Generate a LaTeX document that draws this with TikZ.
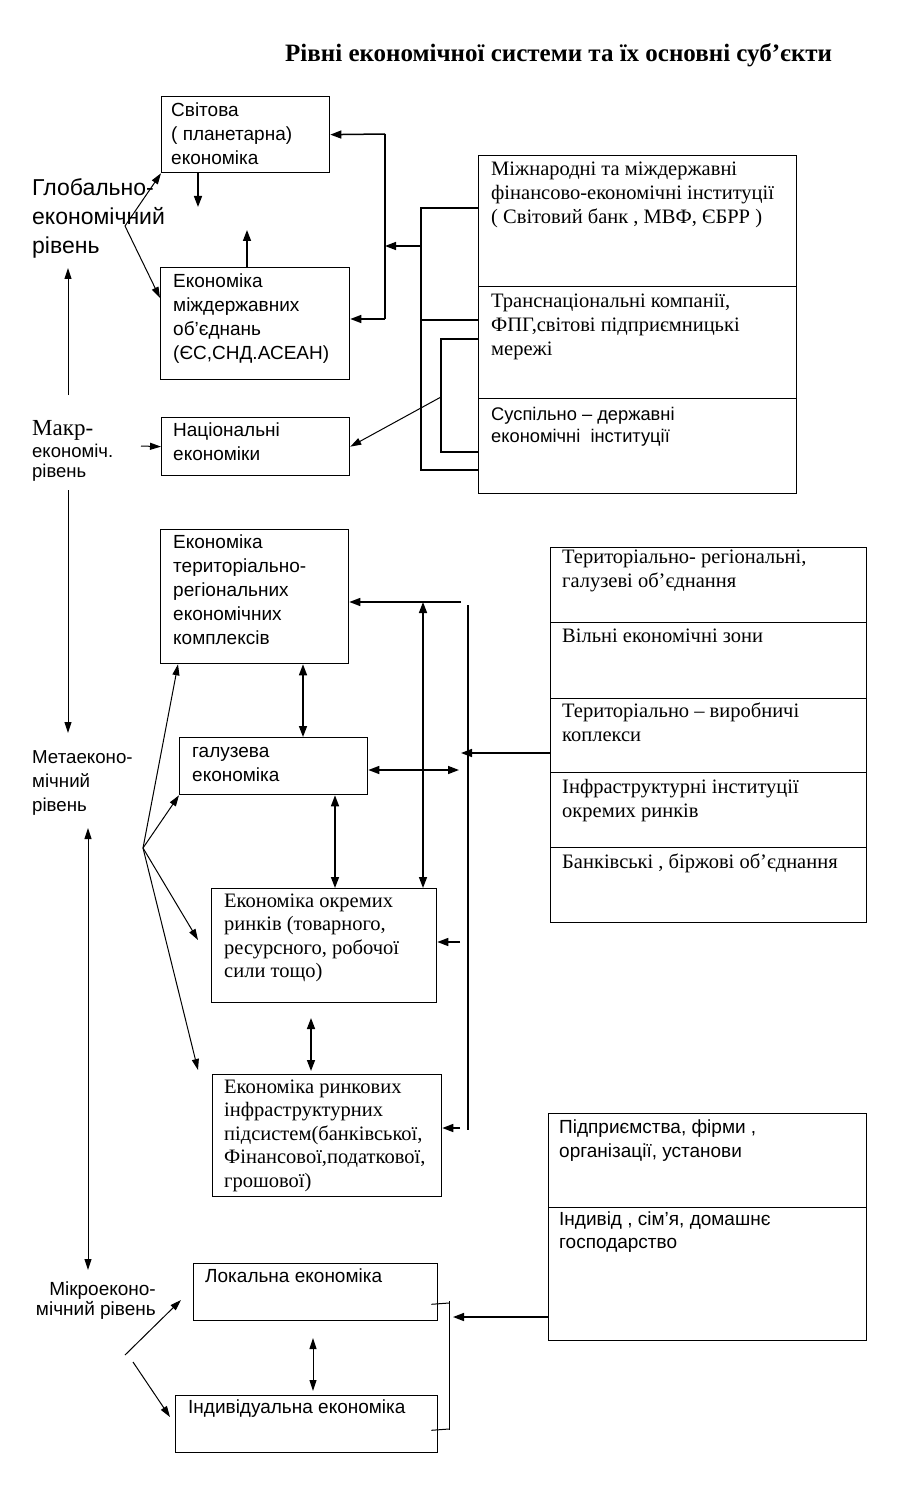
\documentclass[tikz,border=0pt]{standalone}
\usepackage{fontspec}
\setmainfont{Liberation Serif}
\newfontfamily\sansf{Liberation Sans}
\usetikzlibrary{arrows.meta,calc}
\newcommand\fl{\rule{0pt}{17pt}}
\begin{document}
\begin{tikzpicture}[x=1pt,y=-1pt,
  box/.style={draw,line width=1.3pt,inner sep=0,anchor=north west},
  txt/.style={inner sep=0,anchor=north west,align=left},
  sanstxt/.style={txt,font=\sansf\fontsize{19}{24}\selectfont},
  seriftxt/.style={txt,font=\fontsize{20.5}{24}\selectfont},
  one/.style={inner sep=0,anchor=base west},
  ln/.style={line width=1.5pt},
  arr/.style={ln,-{Triangle[length=11pt,width=8pt]}},
  darr/.style={ln,{Triangle[length=11pt,width=8pt]}-{Triangle[length=11pt,width=8pt]}},
  thinarr/.style={line width=1pt,-{Triangle[length=11pt,width=7pt]}},
  ]
\path[use as bounding box,fill=white] (0,0) rectangle (900,1503);

% title
\node[one,font=\bfseries\fontsize{25}{28}\selectfont] (title) at (285,62) {Рівні економічної системи та їх основні суб’єкти};

% global level boxes
\node[box,minimum width=168pt,minimum height=76pt] (svit) at (161,96) {};
\node[sanstxt] (svitT) at (171,99) {\fl Світова\\( планетарна)\\економіка};
\node[box,minimum width=189pt,minimum height=112pt] (mizh) at (160,267) {};
\node[sanstxt] (mizhT) at (173,270) {\fl Економіка\\міждержавних\\об’єднань\\(ЄС,СНД.АСЕАН)};
\node[box,minimum width=188pt,minimum height=58pt] (nats) at (161,417) {};
\node[sanstxt] (natsT) at (173,419) {\fl Національні\\економіки};

% left labels
\node[txt,font=\sansf\fontsize{23}{29}\selectfont] (glob) at (32,178) {\fl Глобально-\\економічний\\рівень};
\node[one,font=\fontsize{23}{26}\selectfont] (makr1) at (32,435) {Макр-};
\node[one,font=\sansf\fontsize{18.5}{20}\selectfont] (makr2) at (32,457) {економіч.};
\node[one,font=\sansf\fontsize{18.5}{20}\selectfont] (makr3) at (32,477) {рівень};
\node[txt,font=\sansf\fontsize{18.7}{24}\selectfont] (meta) at (32,746) {\fl Метаеконо-\\мічний\\рівень};
\node[inner sep=0,anchor=north east,align=right,font=\sansf\fontsize{19}{20}\selectfont] (mikro) at (156,1278) {\fl Мікроеконо-\\мічний рівень};

% right institutions box
\node[box,minimum width=318pt,minimum height=131pt] (intA) at (478,155) {};
\node[box,minimum width=318pt,minimum height=112pt] (intB) at (478,286) {};
\node[box,minimum width=318pt,minimum height=95pt] (intC) at (478,398) {};
\node[seriftxt] (intAT) at (491,158) {\fl Міжнародні та міждержавні\\фінансово-економічні інституції\\( Світовий банк , МВФ, ЄБРР )};
\node[seriftxt] (intBT) at (491,290) {\fl Транснаціональні компанії,\\ФПГ,світові підприємницькі\\мережі};
\node[txt,font=\sansf\fontsize{18.3}{22}\selectfont] (intCT) at (491,403) {\fl Суспільно – державні\\економічні\ \ інституції};

% meta level boxes
\node[box,minimum width=188pt,minimum height=134pt] (terr) at (160,529) {};
\node[sanstxt] (terrT) at (173,531) {\fl Економіка\\територіально-\\регіональних\\економічних\\комплексів};
\node[box,minimum width=188pt,minimum height=57pt] (galuz) at (179,737) {};
\node[sanstxt] (galuzT) at (192,740) {\fl галузева\\економіка};
\node[box,minimum width=225pt,minimum height=114pt] (okrem) at (211,888) {};
\node[txt,font=\fontsize{20.5}{23.5}\selectfont] (okremT) at (224,890) {\fl Економіка окремих\\ринків (товарного,\\ресурсного, робочої\\сили тощо)};
\node[box,minimum width=229pt,minimum height=122pt] (rynk) at (212,1074) {};
\node[txt,font=\fontsize{20.5}{23.5}\selectfont] (rynkT) at (224,1076) {\fl Економіка ринкових\\інфраструктурних\\підсистем(банківської,\\Фінансової,податкової,\\грошової)};

% right box 2
\node[box,minimum width=316pt,minimum height=75pt] (rbA) at (550,547) {};
\node[box,minimum width=316pt,minimum height=76pt] (rbB) at (550,622) {};
\node[box,minimum width=316pt,minimum height=74pt] (rbC) at (550,698) {};
\node[box,minimum width=316pt,minimum height=75pt] (rbD) at (550,772) {};
\node[box,minimum width=316pt,minimum height=75pt] (rbE) at (550,847) {};
\node[seriftxt] (rbAT) at (562,546) {\fl Територіально- регіональні,\\галузеві об’єднання};
\node[one,font=\fontsize{20.5}{24}\selectfont] (rbBT) at (562,642) {Вільні економічні зони};
\node[seriftxt] (rbCT) at (562,700) {\fl Територіально – виробничі\\коплекси};
\node[seriftxt] (rbDT) at (562,776) {\fl Інфраструктурні інституції\\окремих ринків};
\node[one,font=\fontsize{20.5}{24}\selectfont] (rbET) at (562,868) {Банківські , біржові об’єднання};

% micro level
\node[box,minimum width=244pt,minimum height=57pt] (lok) at (193,1263) {};
\node[one,font=\sansf\fontsize{19}{24}\selectfont] (lokT) at (205,1282) {Локальна економіка};
\node[box,minimum width=262pt,minimum height=57pt] (ind) at (175,1395) {};
\node[one,font=\sansf\fontsize{19}{24}\selectfont] (indT) at (188,1413) {Індивідуальна економіка};
\node[box,minimum width=318pt,minimum height=94pt] (ent) at (548,1113) {};
\node[box,minimum width=318pt,minimum height=133pt] (fam) at (548,1207) {};
\node[txt,font=\sansf\fontsize{19}{24}\selectfont] (entT) at (559,1116) {\fl Підприємства, фірми ,\\організації, установи};
\node[txt,font=\sansf\fontsize{19}{23}\selectfont] (famT) at (559,1208) {\fl Індивід , сім’я, домашнє\\господарство};

% ---- connectors: global level
\coordinate (gfan) at (125,226);
\draw[thinarr] (gfan) -- (svit.south west);
\draw[thinarr] (gfan) -- ($(mizh.north west)+(0,31)$);
\coordinate (svdown) at (198,207);
\draw[arr] (svit.south west -| svdown) -- (svdown);
\coordinate (mzup) at (247,230);
\draw[arr] (mizh.north west -| mzup) -- (mzup);
\coordinate (b1t) at (385,134);
\coordinate (b1b) at (385,319);
\coordinate (b2m) at (421,246);
\draw[ln] (b1t) -- (b1b);
\draw[arr] (b1t) -- (svit.east);
\draw[arr] (b1b) -- (b1b -| mizh.east);
\draw[arr] (b2m) -- (b2m -| b1t);
% big bracket
\coordinate (bb1) at (421,208);
\coordinate (bb2) at (421,470);
\coordinate (bbm) at (421,320);
\draw[ln] (bb1 -| intA.west) -- (bb1) -- (bb2) -- (bb2 -| intC.west);
\draw[ln] (bbm) -- (bbm -| intB.west);
% inner bracket
\coordinate (ib1) at (441,339);
\coordinate (ib2) at (441,452);
\coordinate (ibm) at (441,397);
\draw[ln] (ib1 -| intB.west) -- (ib1) -- (ib2) -- (ib2 -| intC.west);
\draw[thinarr] (ibm) -- (nats.east);
% left arrows
\coordinate (mk) at (141,446);
\draw[thinarr] (mk) -- (nats.west);
\coordinate (l1a) at (68,395);
\coordinate (l1b) at (68,268);
\draw[thinarr] (l1a) -- (l1b);
\coordinate (l2a) at (68,490);
\coordinate (l2b) at (68,733);
\draw[thinarr] (l2a) -- (l2b);
\coordinate (l3a) at (88,828);
\coordinate (l3b) at (88,1270);
\draw[line width=1pt,{Triangle[length=11pt,width=7pt]}-{Triangle[length=11pt,width=7pt]}] (l3a) -- (l3b);

% ---- meta level
\draw[darr] ($(terr.south west)+(143,0)$) -- ($(galuz.north west)+(124,0)$);
\draw[darr] ($(galuz.south west)+(156,0)$) -- ($(okrem.north west)+(124,0)$);
\coordinate (m4r) at (461,602);
\coordinate (m3t) at (423,602);
\draw[arr] (m4r) -- (m4r -| terr.east);
\draw[darr] (m3t) -- ($(okrem.north west)+(212,0)$);
\coordinate (vt) at (468,605);
\coordinate (vb) at (468,1130);
\draw[ln] (vt) -- (vb);
\coordinate (m7) at (461,753);
\draw[arr] (m7 -| rbC.west) -- (m7);
\coordinate (m8) at (459,770);
\draw[darr] (m8 -| galuz.east) -- (m8);
\coordinate (s1) at (460,942);
\draw[arr] (s1) -- (s1 -| okrem.east);
\coordinate (s2) at (460,1128);
\draw[arr] (s2) -- (s2 -| rynk.east);
% fan
\coordinate (mfan) at (143,848);
\coordinate (f3) at (198,940);
\coordinate (f4) at (198,1070);
\draw[thinarr] (mfan) -- ($(terr.south west)+(18,0)$);
\draw[thinarr] (mfan) -- (galuz.south west);
\draw[thinarr] (mfan) -- (f3);
\draw[thinarr] (mfan) -- (f4);
\coordinate (d1a) at (311,1018);
\coordinate (d1b) at (311,1071);
\draw[darr] (d1a) -- (d1b);

% ---- micro level
\coordinate (bf1) at (125,1355);
\coordinate (bf1e) at (181,1300);
\coordinate (bf2) at (133,1362);
\coordinate (bf2e) at (170,1417);
\draw[thinarr] (bf1) -- (bf1e);
\draw[thinarr] (bf2) -- (bf2e);
\coordinate (d2a) at (313,1338);
\coordinate (d2b) at (313,1391);
\draw[line width=1pt,{Triangle[length=11pt,width=7pt]}-{Triangle[length=11pt,width=7pt]}] (d2a) -- (d2b);
\coordinate (mb1) at (449,1301);
\coordinate (mb2) at (449,1430);
\draw[line width=1pt] (mb1) -- (mb2);
\draw[line width=1pt] ($(lok.south east)+(-7,-17)$) -- (mb1 |- 0,1303);
\draw[line width=1pt] ($(ind.south east)+(-7,-23)$) -- (mb2 |- 0,1429);
\coordinate (ma) at (453,1317);
\draw[arr] (ma -| fam.west) -- (ma);
\end{tikzpicture}
\end{document}
